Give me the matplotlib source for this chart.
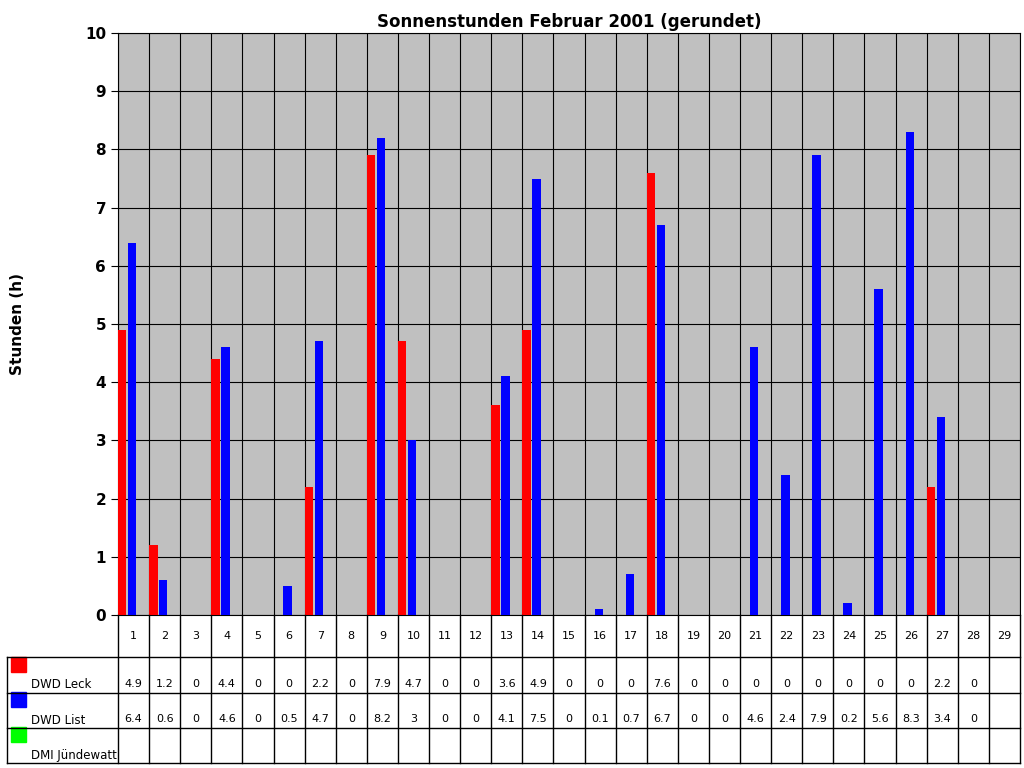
import matplotlib
matplotlib.use("Agg")
import matplotlib.pyplot as plt
import numpy as np

days = [str(d) for d in range(1, 30)]
leck = [4.9, 1.2, 0, 4.4, 0, 0, 2.2, 0, 7.9, 4.7, 0, 0, 3.6, 4.9, 0, 0, 0, 7.6, 0, 0, 0, 0, 0, 0, 0, 0, 2.2, 0]
lst = [6.4, 0.6, 0, 4.6, 0, 0.5, 4.7, 0, 8.2, 3, 0, 0, 4.1, 7.5, 0, 0.1, 0.7, 6.7, 0, 0, 4.6, 2.4, 7.9, 0.2, 5.6, 8.3, 3.4, 0]
series = [("DWD Leck", leck, "#ff0000"), ("DWD List", lst, "#0000ff"), ("DMI Jündewatt", [], "#00ff00")]

W, H = 1024, 768
fig = plt.figure(figsize=(W / 100, H / 100), dpi=100)
fx = lambda p: p / W
fy = lambda p: 1 - p / H

x0, x1, ytop, ybot = 118, 1020, 33, 615
ax = fig.add_axes([fx(x0), fy(ybot), fx(x1 - x0), (ybot - ytop) / H])
ax.set_facecolor("#c0c0c0")
n = len(days)
idx = np.arange(n)
ax.bar(idx[:len(leck)] + 0.0, leck, width=0.27, align="edge", color="#ff0000", zorder=3)
ax.bar(idx[:len(lst)] + 0.32, lst, width=0.27, align="edge", color="#0000ff", zorder=3)
ax.set_xlim(0, n)
ax.set_ylim(0, 10)
ax.set_yticks(range(11))
ax.set_yticklabels([str(v) for v in range(11)], fontsize=11, fontweight="bold")
ax.set_xticks(range(n + 1))
ax.set_xticklabels([])
ax.tick_params(axis="x", length=0)
ax.tick_params(axis="y", length=5)
ax.grid(True, color="black", linewidth=0.8, zorder=1)
for s in ax.spines.values():
    s.set_linewidth(0.8)
ax.set_title("Sonnenstunden Februar 2001 (gerundet)", fontsize=12, fontweight="bold", pad=4)
fig.text(fx(18), fy(324), "Stunden (h)", rotation=90, ha="center", va="center", fontsize=11, fontweight="bold")

# data table
cw = (x1 - x0) / n
rows = [615, 657, 693, 728, 763]
line = dict(color="black", linewidth=1, transform=fig.transFigure)
for i in range(n + 1):
    fig.add_artist(plt.Line2D([fx(x0 + i * cw)] * 2, [fy(615), fy(763)], **line))
for r in rows[1:]:
    fig.add_artist(plt.Line2D([fx(7), fx(x1)], [fy(r), fy(r)], **line))
fig.add_artist(plt.Line2D([fx(7), fx(7)], [fy(657), fy(763)], **line))
for i, d in enumerate(days):
    fig.text(fx(x0 + (i + 0.5) * cw), fy(636), d, ha="center", va="center", fontsize=8)
for r, (name, vals, col) in enumerate(series):
    yb = rows[r + 2]
    fig.add_artist(plt.Rectangle((fx(11), fy(yb - 21)), fx(15), 15 / H, color=col, transform=fig.transFigure))
    fig.text(fx(31), fy(yb - 8), name, ha="left", va="center", fontsize=8.5)
    for i, v in enumerate(vals):
        fig.text(fx(x0 + (i + 0.5) * cw), fy(yb - 9), f"{v:g}", ha="center", va="center", fontsize=8)

fig.savefig("out.png", dpi=100)
